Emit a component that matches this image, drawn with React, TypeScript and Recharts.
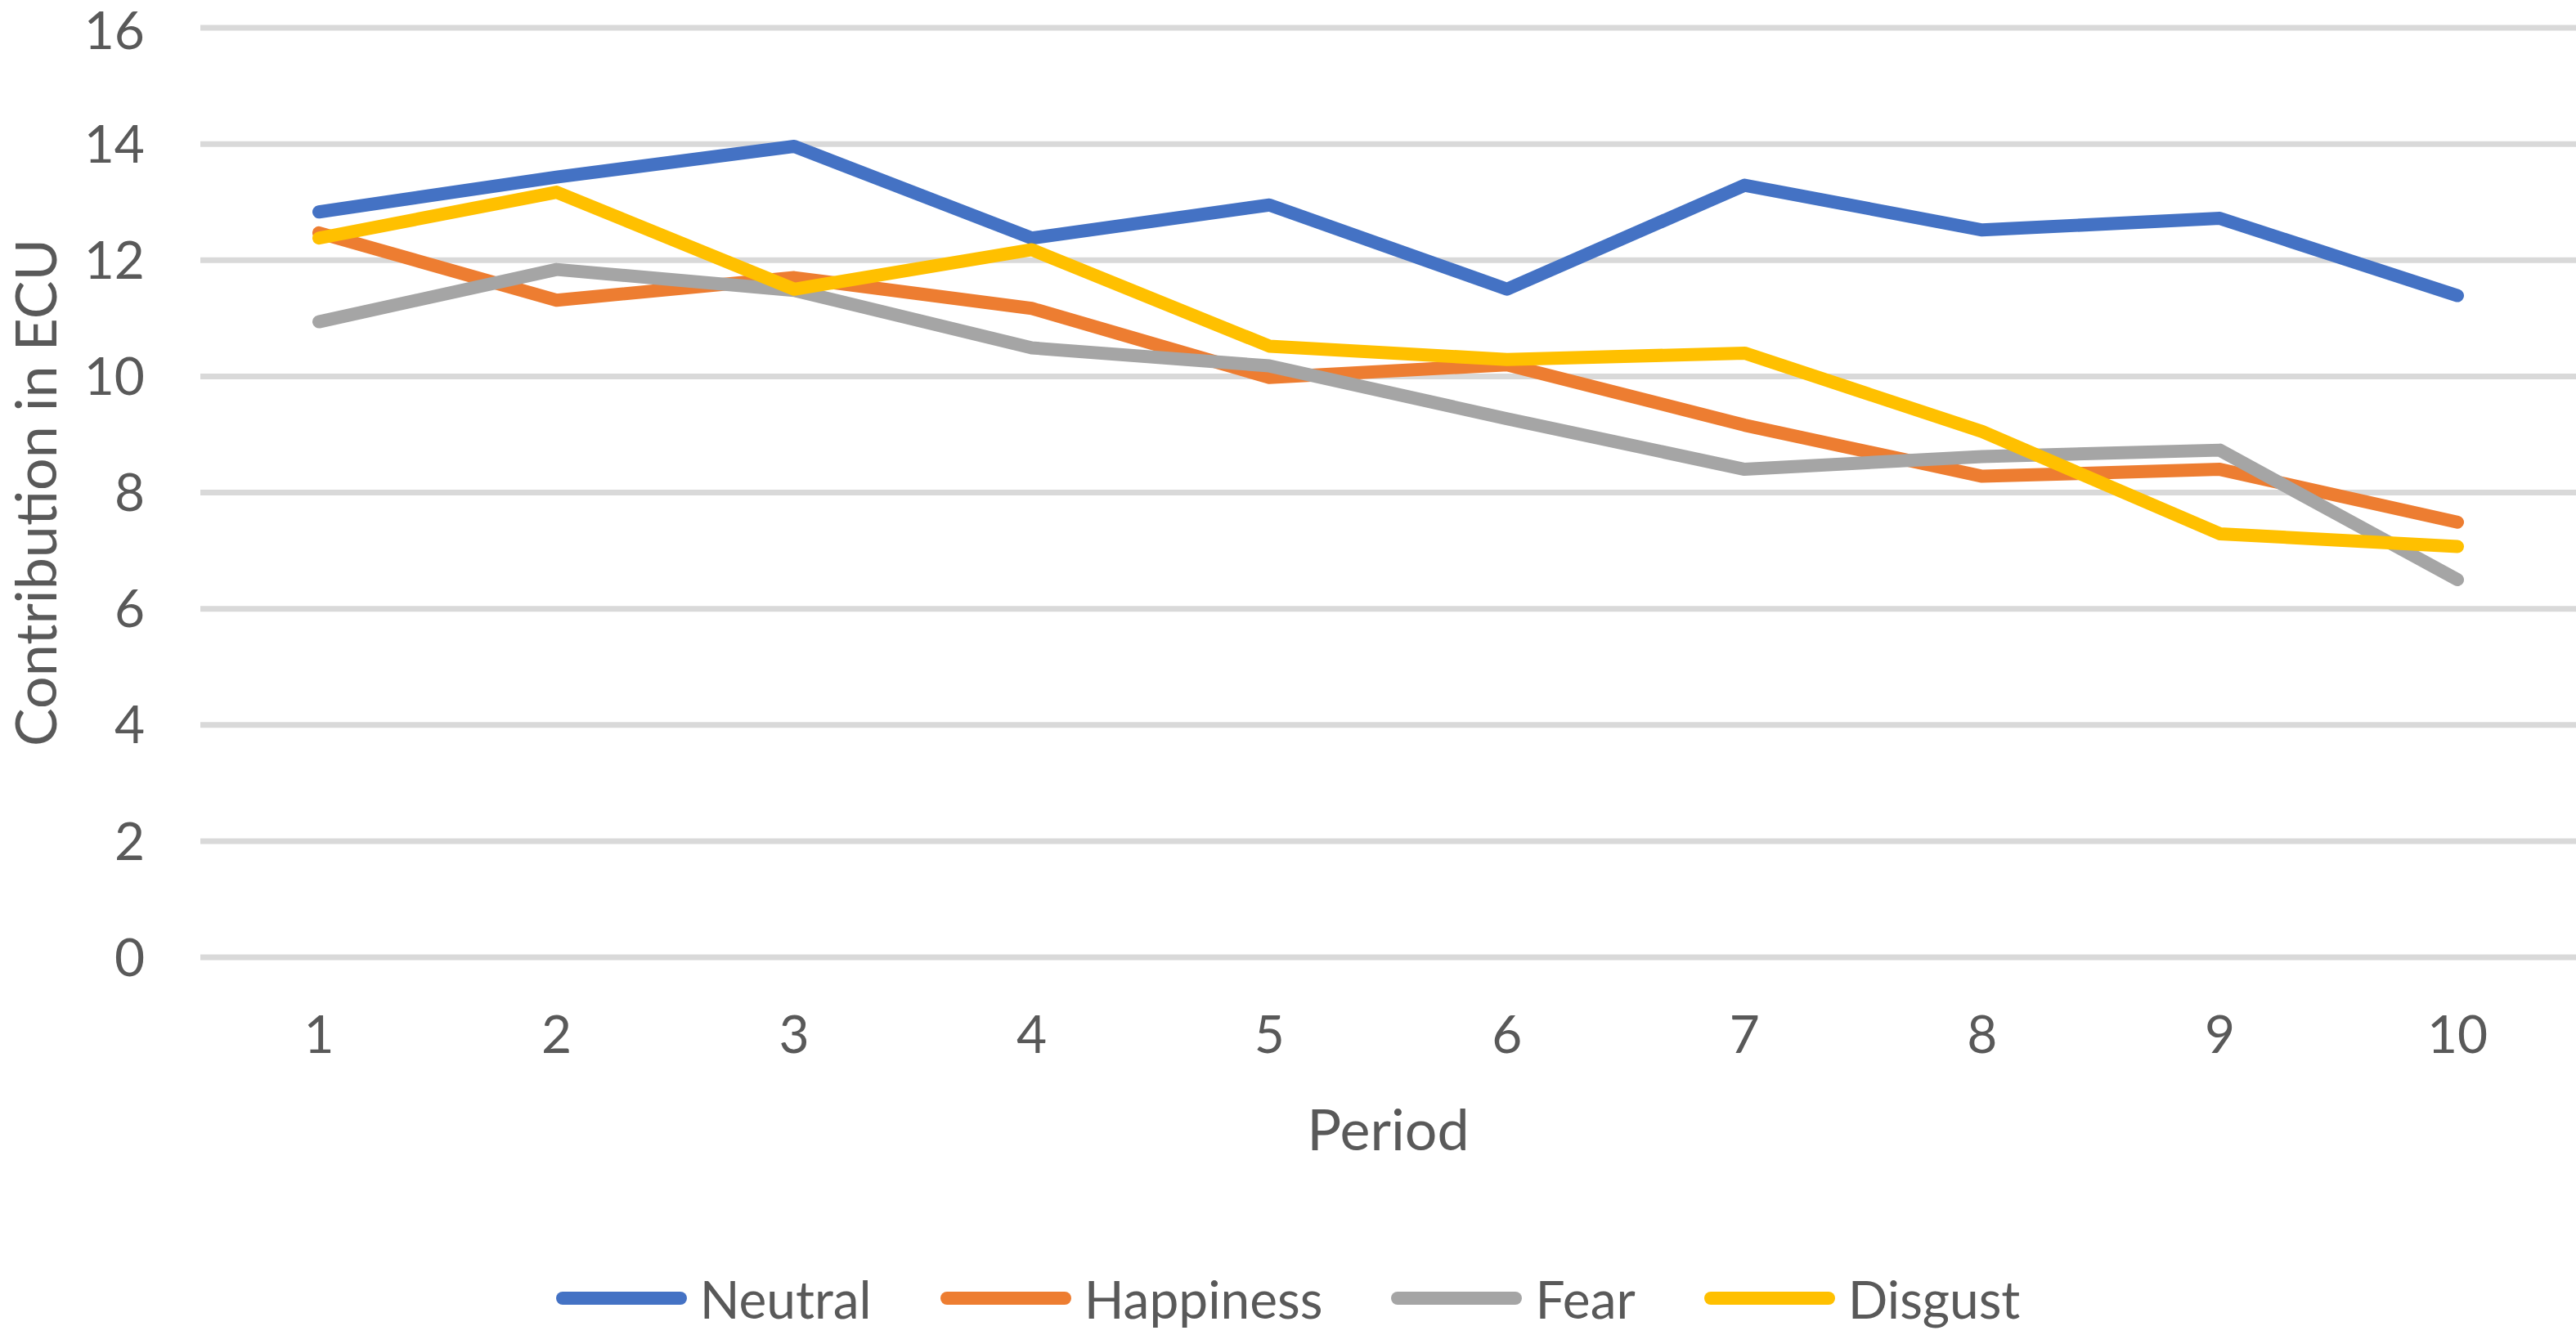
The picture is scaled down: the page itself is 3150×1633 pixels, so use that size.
import { LineChart, Line, XAxis, YAxis, CartesianGrid, Legend } from "recharts";

// ---- Data ----

const PERIODS = ["1", "2", "3", "4", "5", "6", "7", "8", "9", "10"];
const NEUTRAL = [12.83, 13.43, 13.96, 12.38, 12.95, 11.5, 13.29, 12.52, 12.72, 11.39];
const HAPPINESS = [12.47, 11.31, 11.7, 11.17, 9.98, 10.2, 9.16, 8.28, 8.4, 7.49];
const FEAR = [10.94, 11.84, 11.48, 10.49, 10.18, 9.27, 8.4, 8.62, 8.73, 6.5];
const DISGUST = [12.38, 13.17, 11.5, 12.18, 10.52, 10.29, 10.4, 9.05, 7.29, 7.07];
const Y_TICKS = [0, 2, 4, 6, 8, 10, 12, 14, 16];

const SERIES = [
  { key: "Neutral", color: "#4472C4", values: NEUTRAL },
  { key: "Happiness", color: "#ED7D31", values: HAPPINESS },
  { key: "Fear", color: "#A5A5A5", values: FEAR },
  { key: "Disgust", color: "#FFC000", values: DISGUST },
];

const data = PERIODS.map((p, i) => {
  const row: Record<string, string | number> = { period: p };
  SERIES.forEach((s) => {
    row[s.key] = s.values[i];
  });
  return row;
});

// ---- Styles ----

const FONT = "Lato, 'Open Sans', sans-serif";
const TEXT = "#595959";
const W = 3150;
const H = 1633;

function LegendContent() {
  return (
    <div
      style={{
        display: "flex",
        justifyContent: "center",
        alignItems: "center",
        height: 90,
        fontFamily: FONT,
        fontSize: 64,
        color: TEXT,
      }}
    >
      {SERIES.map((s, i) => (
        <div
          key={s.key}
          style={{ display: "flex", alignItems: "center", marginLeft: i === 0 ? 0 : 84 }}
        >
          <span
            style={{
              display: "inline-block",
              width: 160,
              height: 16,
              borderRadius: 8,
              background: s.color,
              marginRight: 16,
            }}
          />
          <span>{s.key}</span>
        </div>
      ))}
    </div>
  );
}

export default function App() {
  return (
    <div style={{ position: "absolute", left: 0, top: 0, width: W, height: H, background: "#fff" }}>
      <LineChart
        width={W}
        height={H}
        data={data}
        margin={{ top: 34, right: 0, bottom: 0, left: 0 }}
      >
        <CartesianGrid vertical={false} stroke="#D9D9D9" strokeWidth={7} />
        <XAxis
          dataKey="period"
          height={372}
          padding={{ left: 145, right: 145 }}
          axisLine={false}
          tickLine={false}
          tickSize={0}
          tickMargin={72}
          tick={{ fill: TEXT, fontSize: 64, fontFamily: FONT }}
          label={{
            value: "Period",
            position: "insideBottom",
            offset: 136,
            fill: TEXT,
            fontSize: 70,
            fontFamily: FONT,
          }}
        />
        <YAxis
          width={245}
          domain={[0, 16]}
          ticks={Y_TICKS}
          axisLine={false}
          tickLine={false}
          tickSize={0}
          tickMargin={68}
          tick={{ fill: TEXT, fontSize: 64, fontFamily: FONT }}
          label={{
            content: ({ viewBox }: any) => {
              const cy = viewBox.y + viewBox.height / 2;
              return (
                <text
                  transform={`translate(42, ${cy}) rotate(-90)`}
                  textAnchor="middle"
                  dominantBaseline="central"
                  fill={TEXT}
                  fontSize={70}
                  fontFamily={FONT}
                >
                  Contribution in ECU
                </text>
              );
            },
          }}
        />
        <Legend verticalAlign="bottom" content={<LegendContent />} />
        {SERIES.map((s) => (
          <Line
            key={s.key}
            dataKey={s.key}
            stroke={s.color}
            strokeWidth={16}
            strokeLinecap="round"
            strokeLinejoin="round"
            dot={false}
            activeDot={false}
            isAnimationActive={false}
          />
        ))}
      </LineChart>
    </div>
  );
}
